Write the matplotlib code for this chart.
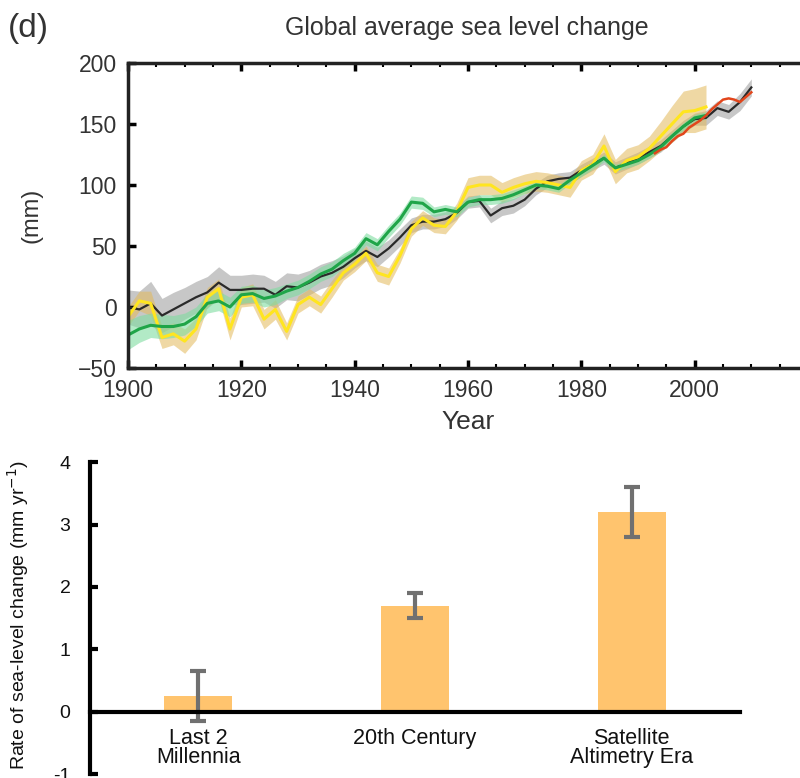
import numpy as np
import matplotlib
matplotlib.use("Agg")
import matplotlib.pyplot as plt
from matplotlib.ticker import MultipleLocator, FuncFormatter

plt.rcParams['font.family'] = ['Liberation Sans', 'DejaVu Sans']

# --- top panel data (mm), every 2 years
years_long = list(range(1900, 2011, 2))
black = [0, -2, 3, -7, -2, 3, 8, 12, 20, 14, 14, 15, 15, 10, 17, 16, 20, 25, 28, 33,
         40, 46, 41, 48, 57, 67, 70, 70, 72, 77, 86, 87, 75, 81, 83, 88, 97, 103, 105, 106,
         112, 117, 122, 114, 118, 122, 127, 132, 140, 148, 154, 155, 163, 160, 168, 180]
black_err = [14, 15, 18, 14, 14, 13, 13, 13, 13, 12, 12, 12, 11, 11, 11, 11,
             10, 10, 10, 9, 8, 8, 8, 7, 7, 6, 6, 6, 6, 5, 5, 5,
             6, 6, 6, 5, 5, 5, 5, 5, 5, 5, 5, 5, 5, 5, 5, 5,
             5, 5, 5, 6, 6, 6, 7, 7]

years_short = list(range(1900, 2003, 2))
yellow = [-8, 5, 3, -25, -22, -28, -18, 8, 15, -18, 8, 10, -10, -2, -20, 2, 8, 2, 15, 28,
          35, 44, 28, 25, 42, 64, 73, 67, 66, 78, 98, 100, 100, 94, 98, 101, 103, 102, 100, 98,
          112, 117, 132, 111, 120, 123, 130, 140, 150, 160, 161, 164]
yellow_err = [8, 8, 10, 9, 9, 10, 9, 8, 8, 9, 8, 9, 8, 8, 7, 7,
              7, 7, 7, 6, 6, 6, 7, 7, 6, 6, 6, 6, 6, 7, 8, 8,
              8, 8, 8, 8, 8, 8, 8, 8, 8, 8, 10, 10, 10, 10, 10, 12,
              15, 17, 18, 18]
green = [-23, -18, -15, -16, -16, -14, -8, 3, 5, 0, 10, 11, 7, 9, 13, 16, 21, 27, 31, 38,
         44, 56, 51, 62, 72, 86, 85, 78, 80, 78, 86, 88, 88, 89, 92, 96, 100, 99, 97, 104,
         110, 116, 122, 114, 117, 120, 125, 131, 140, 148, 155, 157]
green_err = [12, 11, 10, 10, 9, 9, 8, 8, 8, 8, 7, 7, 7, 7, 6, 6,
             6, 6, 6, 6, 5, 5, 5, 5, 5, 5, 5, 4, 4, 4, 4, 4,
             4, 4, 4, 3, 3, 3, 3, 3, 3, 3, 3, 3, 3, 3, 3, 3,
             3, 3, 3, 3]

years_sat = list(range(1993, 2011))
red = [126, 129, 131, 136, 140, 142, 147, 150, 153, 157, 162, 166, 170, 171, 170, 168, 172, 176]

# --- bottom panel data (mm/yr)
periods = ["Last 2\nMillennia", "20th Century", "Satellite\nAltimetry Era"]
rates = [0.25, 1.7, 3.2]
rate_err = [0.4, 0.2, 0.4]

fig = plt.figure(figsize=(8, 7.78), dpi=100)
txt = "#333333"

# ---------------- top panel
ax = fig.add_axes([0.16, 0.527, 0.85, 0.392])
yl = np.array(years_long)
ys = np.array(years_short)
b, be = np.array(black), np.array(black_err)
y_, ye = np.array(yellow), np.array(yellow_err)
g, ge = np.array(green), np.array(green_err)

ax.fill_between(yl, b - be, b + be, color="#9a9a9a", alpha=0.55, lw=0)
ax.fill_between(ys, y_ - ye, y_ + ye, color="#e3b95a", alpha=0.55, lw=0)
ax.fill_between(ys, g - ge, g + ge, color="#7fdca0", alpha=0.6, lw=0)
ax.plot(yl, b, color="#2a2a2a", lw=1.6)
ax.plot(ys, y_, color="#ffe51f", lw=2.2)
ax.plot(ys, g, color="#1fa548", lw=2.2)
ax.plot(years_sat, red, color="#e2461c", lw=1.8)

ax.set_xlim(1900, 2020)
ax.set_ylim(-50, 200)
ax.set_xticks(range(1900, 2001, 20))
ax.xaxis.set_minor_locator(MultipleLocator(5))
ax.yaxis.set_major_locator(MultipleLocator(50))
ax.tick_params(which="major", direction="in", length=6, width=2.5, top=True,
               labelsize=16.5, labelcolor=txt, pad=8)
ax.tick_params(which="minor", direction="in", length=3, width=1.5, top=True)
for s in ax.spines.values():
    s.set_linewidth(2.5)
    s.set_color("#222222")
ax.set_xlabel("Year", fontsize=19, color=txt, labelpad=6)
ax.set_ylabel("(mm)", fontsize=17, color=txt)
ax.yaxis.set_label_coords(-0.125, 0.5)

fig.text(467 / 800, 1 - 28 / 778, "Global average sea level change", fontsize=18,
         color=txt, ha="center", va="center")
fig.text(0.01, 1 - 28 / 778, "(d)", fontsize=24, color=txt, ha="left", va="center")

# ---------------- bottom panel
ax2 = fig.add_axes([0.1125, 0.005, 0.8125, 0.401])
ax2.spines["bottom"].set_position(("data", 0))
ax2.spines["top"].set_visible(False)
ax2.spines["right"].set_visible(False)
ax2.spines["bottom"].set_linewidth(3)
ax2.spines["left"].set_linewidth(3)

x = np.arange(len(periods))
ax2.bar(x, rates, width=0.315, color="#ffc46e")
ax2.errorbar(x, rates, yerr=rate_err, fmt="none", ecolor="#707070",
             elinewidth=3, capsize=5.5, capthick=3)
ax2.set_xlim(-0.5, 2.5)
ax2.set_ylim(-1, 4)
ax2.set_xticks(x)
ax2.set_xticklabels(periods, linespacing=0.85)
ax2.yaxis.set_major_formatter(FuncFormatter(lambda v, p: "%d" % v))
ax2.tick_params(axis="x", length=0, pad=12, labelsize=15.5, labelcolor="#111111")
ax2.tick_params(axis="y", direction="in", length=6, width=3, labelsize=14,
                labelcolor="#111111", pad=14)
ax2.set_ylabel("Rate of sea-level change (mm yr$^{-1}$)", fontsize=14, color="#111111")
ax2.yaxis.set_label_coords(-0.09, 0.51)

fig.savefig("out.png", dpi=100)
